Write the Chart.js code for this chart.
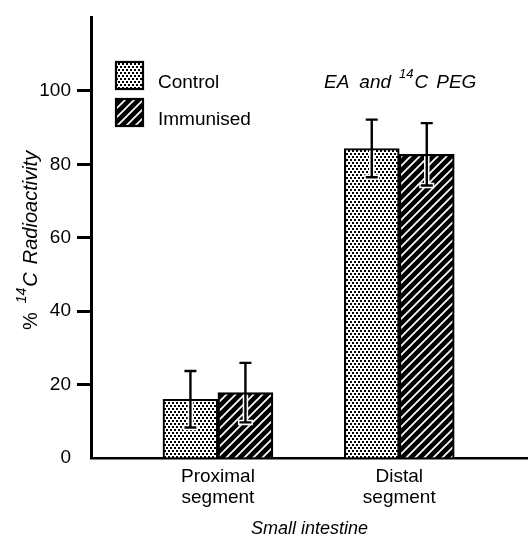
<!DOCTYPE html>
<html>
<head>
<meta charset="utf-8">
<script src="https://cdn.jsdelivr.net/npm/chart.js@4"></script>
<style>
  html, body { margin: 0; padding: 0; background: #fff; }
  canvas { display: block; }
</style>
</head>
<body>
<canvas id="c" width="528" height="538"></canvas>
<script>
// ---- data ----
const categories = [['Proximal', 'segment'], ['Distal', 'segment']];
const categoryPositions = [1, 2];
const seriesNames = ['Control', 'Immunised'];
const controlValues = [16, 84.3];
const controlSD = [7.7, 7.85];
const immunisedValues = [17.8, 82.7];
const immunisedSD = [8.1, 8.5];
const yTicks = [0, 20, 40, 60, 80, 100];
const yMax = 120;
const xMin = 0.3, xMax = 2.71;

// ---- patterns ----
function dotPattern() {
  const w = 4, h = 6;
  const c = document.createElement('canvas');
  c.width = w; c.height = h;
  const g = c.getContext('2d');
  g.fillStyle = '#fff'; g.fillRect(0, 0, w, h);
  g.fillStyle = '#000';
  g.fillRect(0, 0, 2, 2);
  g.fillRect(2, 3, 2, 2);
  return g.createPattern(c, 'repeat');
}
function hatchPattern() {
  const s = 9;
  const c = document.createElement('canvas');
  c.width = s; c.height = s;
  const g = c.getContext('2d');
  g.fillStyle = '#000'; g.fillRect(0, 0, s, s);
  g.strokeStyle = '#fff'; g.lineWidth = 1.7;
  g.beginPath();
  g.moveTo(-1, s + 1); g.lineTo(s + 1, -1);
  g.moveTo(-1, 1); g.lineTo(1, -1);
  g.moveTo(s - 1, s + 1); g.lineTo(s + 1, s - 1);
  g.stroke();
  return g.createPattern(c, 'repeat');
}
const fills = [dotPattern(), hatchPattern()];
const sds = [controlSD, immunisedSD];

const FONT = '"Liberation Sans", Arial, sans-serif';

// ---- plugins ----
const errorBars = {
  id: 'errorBars',
  afterDatasetsDraw(chart) {
    const ctx = chart.ctx;
    const y = chart.scales.y;
    chart.data.datasets.forEach((ds, i) => {
      const meta = chart.getDatasetMeta(i);
      meta.data.forEach((bar, j) => {
        const v = ds.data[j].y, sd = sds[i][j];
        const x = bar.x;
        const yt = y.getPixelForValue(v + sd);
        const yb = y.getPixelForValue(v - sd);
        const cap = 6;
        ctx.save();
        ctx.lineCap = 'butt';
        ctx.strokeStyle = '#fff';
        ctx.lineWidth = 5.5;
        ctx.beginPath();
        ctx.moveTo(x, Math.max(yt, bar.y + 2)); ctx.lineTo(x, yb);
        ctx.moveTo(x - cap - 1.5, yb); ctx.lineTo(x + cap + 1.5, yb);
        ctx.stroke();
        ctx.strokeStyle = '#000';
        ctx.lineWidth = 2.4;
        ctx.beginPath();
        ctx.moveTo(x, yt); ctx.lineTo(x, yb);
        ctx.moveTo(x - cap, yt); ctx.lineTo(x + cap, yt);
        ctx.moveTo(x - cap, yb); ctx.lineTo(x + cap, yb);
        ctx.stroke();
        ctx.restore();
      });
    });
  }
};

function drawPieces(ctx, pieces, x0, y0) {
  let x = x0;
  pieces.forEach(p => {
    ctx.font = p.font;
    ctx.fillText(p.text, x, y0 - (p.rise || 0));
    x += ctx.measureText(p.text).width + (p.gap || 0);
  });
}

const annotations = {
  id: 'annotations',
  afterDraw(chart) {
    const ctx = chart.ctx;
    ctx.save();
    ctx.fillStyle = '#000';
    ctx.textBaseline = 'alphabetic';
    ctx.textAlign = 'left';
    const boxes = [{ y: 62 }, { y: 99 }];
    chart.data.datasets.forEach((ds, i) => {
      const bx = 116, by = boxes[i].y, bs = 27;
      ctx.fillStyle = ds.backgroundColor;
      ctx.fillRect(bx, by, bs, bs);
      ctx.strokeStyle = '#000';
      ctx.lineWidth = 2.2;
      ctx.strokeRect(bx, by, bs, bs);
      ctx.fillStyle = '#000';
      ctx.font = '19px ' + FONT;
      ctx.fillText(ds.label, 158, by + bs - 1);
    });
    const it = 'italic 19px ' + FONT;
    const sup = 'italic 13px ' + FONT;
    drawPieces(ctx, [
      { text: 'EA', font: it, gap: 10 },
      { text: 'and', font: it, gap: 8 },
      { text: '14', font: sup, rise: 10, gap: 1 },
      { text: 'C', font: it, gap: 8 },
      { text: 'PEG', font: it }
    ], 324, 88);
    ctx.translate(37, 330);
    ctx.rotate(-Math.PI / 2);
    drawPieces(ctx, [
      { text: '%', font: '20px ' + FONT, gap: 9 },
      { text: '14', font: 'italic 14px ' + FONT, rise: 11, gap: 1 },
      { text: 'C', font: 'italic 20px ' + FONT, gap: 8 },
      { text: 'Radioactivity', font: 'italic 20px ' + FONT }
    ], 0, 0);
    ctx.restore();
  }
};

// ---- chart ----
const toPoints = vals => vals.map((v, i) => ({ x: categoryPositions[i], y: v }));

new Chart(document.getElementById('c'), {
  type: 'bar',
  data: {
    datasets: [
      { label: seriesNames[0], data: toPoints(controlValues), backgroundColor: fills[0],
        borderColor: '#000', borderWidth: 2.2, barThickness: 55 },
      { label: seriesNames[1], data: toPoints(immunisedValues), backgroundColor: fills[1],
        borderColor: '#000', borderWidth: 2.2, barThickness: 55 }
    ]
  },
  options: {
    responsive: false,
    animation: false,
    layout: { padding: { top: 14, left: 0, right: 0, bottom: 0 } },
    plugins: { legend: { display: false }, tooltip: { enabled: false } },
    scales: {
      x: {
        type: 'linear',
        offset: false,
        bounds: 'data',
        min: xMin,
        max: xMax,
        afterDataLimits: axis => { axis.min = xMin; axis.max = xMax; },
        afterBuildTicks: axis => { axis.ticks = categoryPositions.map(v => ({ value: v })); },
        afterFit: axis => { axis.height = 80; },
        grid: { display: true, offset: false, drawOnChartArea: false, drawTicks: false },
        border: { display: true, color: '#000', width: 2.5 },
        ticks: {
          color: '#000',
          padding: 8,
          maxRotation: 0,
          autoSkip: false,
          font: { family: FONT, size: 19, lineHeight: '21px' },
          callback: v => {
            const i = categoryPositions.indexOf(v);
            return i >= 0 ? categories[i] : '';
          }
        },
        title: {
          display: true,
          text: 'Small intestine',
          color: '#000',
          font: { family: FONT, size: 18, style: 'italic', lineHeight: '18px' },
          padding: { top: 0, bottom: 0 }
        }
      },
      y: {
        min: 0,
        max: yMax,
        afterBuildTicks: axis => { axis.ticks = yTicks.map(v => ({ value: v })); },
        afterFit: axis => { axis.width = 91; },
        grid: {
          drawOnChartArea: false,
          drawTicks: true,
          tickLength: 14,
          tickWidth: 3,
          tickColor: ctx => (ctx.tick && ctx.tick.value === 0) ? 'rgba(0,0,0,0)' : '#000'
        },
        border: { display: true, color: '#000', width: 3 },
        ticks: {
          color: '#000',
          padding: 6,
          font: { family: FONT, size: 19 }
        }
      }
    }
  },
  plugins: [errorBars, annotations]
});
</script>
</body>
</html>
